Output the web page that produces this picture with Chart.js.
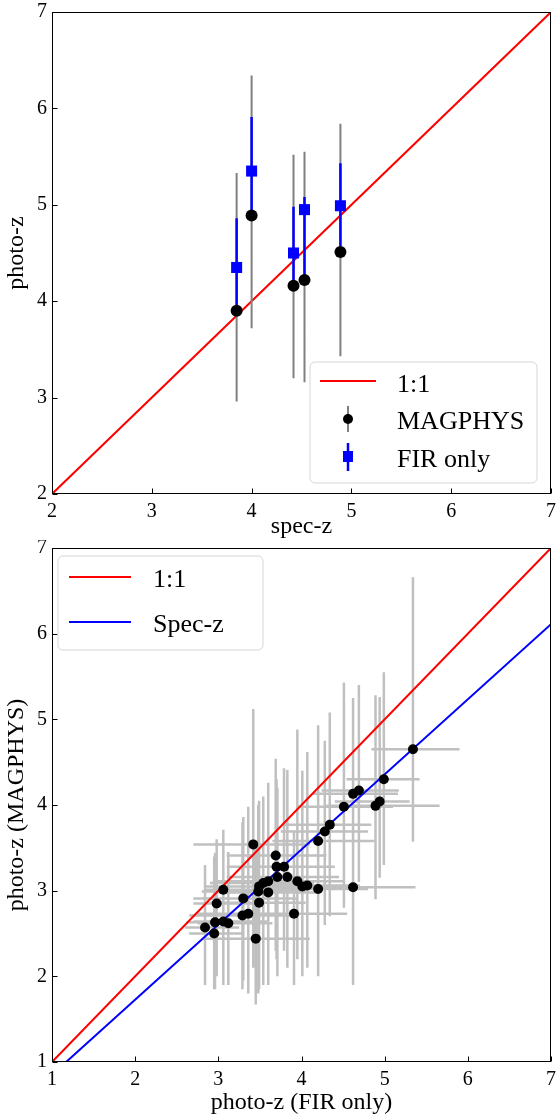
<!DOCTYPE html>
<html>
<head>
<meta charset="utf-8">
<script src="https://cdn.jsdelivr.net/npm/chart.js@4.4.0/dist/chart.umd.min.js"></script>
<style>
  body { margin: 0; background: #fff; }
  canvas { display: block; }
</style>
</head>
<body>
<canvas id="top" width="556" height="540"></canvas>
<canvas id="bottom" width="556" height="577"></canvas>
<script>
/* Top panel: spectroscopic vs photometric redshift */
var specZ      = [3.85, 4.00, 4.42, 4.53, 4.89];
var magphysZ   = [3.90, 4.89, 4.16, 4.22, 4.51];
var magphysLo  = [2.96, 3.72, 3.20, 3.16, 3.43];
var magphysHi  = [5.33, 6.34, 5.52, 5.55, 5.84];
var firZ       = [4.35, 5.35, 4.50, 4.95, 4.99];
var firLo      = [3.94, 4.90, 4.20, 4.25, 4.57];
var firHi      = [4.86, 5.91, 4.98, 5.08, 5.43];

/* Bottom panel: FIR-only photo-z vs MAGPHYS photo-z */
var firOnly    = [5.34, 4.99, 4.69, 4.62, 4.94, 4.89, 4.51, 4.34, 4.28, 4.20,
                  4.62, 4.20, 4.07, 4.01, 3.95, 3.42, 3.69, 3.70, 3.79, 3.71,
                  3.83, 3.60, 3.54, 3.49, 3.48, 3.60, 3.49, 3.30, 3.91, 3.36,
                  3.29, 3.45, 3.06, 2.98, 2.96, 3.06, 3.12, 2.84, 2.95];
var firOnlyLo  = [4.84, 4.54, 4.24, 4.14, 4.40, 4.30, 3.95, 3.80, 3.75, 3.65,
                  3.90, 3.60, 3.50, 3.40, 3.40, 2.70, 3.10, 3.10, 3.20, 3.10,
                  3.20, 2.95, 2.90, 2.85, 2.80, 3.00, 2.90, 2.70, 3.30, 2.75,
                  2.65, 2.80, 2.84, 2.70, 2.62, 2.70, 2.75, 2.60, 2.65];
var firOnlyHi  = [5.90, 5.42, 5.17, 5.16, 5.30, 5.66, 5.10, 4.84, 4.80, 4.88,
                  5.37, 4.80, 4.70, 4.65, 4.50, 4.10, 4.30, 4.35, 4.40, 4.30,
                  4.45, 4.20, 4.15, 4.10, 4.05, 4.20, 4.05, 3.95, 4.55, 4.00,
                  3.90, 4.10, 4.04, 3.50, 3.40, 3.60, 3.65, 3.25, 3.30];
var magphys    = [4.65, 4.30, 4.17, 4.13, 4.04, 3.99, 3.98, 3.77, 3.69, 3.58,
                  3.04, 3.02, 3.06, 3.05, 3.11, 3.54, 3.41, 3.28, 3.28, 3.16,
                  3.16, 3.11, 3.09, 3.05, 2.99, 2.98, 2.86, 2.91, 2.73, 2.73,
                  2.71, 2.44, 3.01, 2.85, 2.63, 2.64, 2.62, 2.57, 2.50];
var magphysLo2 = [3.57, 3.30, 3.10, 2.95, 3.15, 2.90, 2.80, 2.70, 2.60, 2.40,
                  1.90, 2.00, 2.10, 2.00, 2.20, 2.10, 2.30, 2.20, 2.30, 2.00,
                  2.10, 1.95, 1.90, 1.85, 1.80, 1.90, 1.90, 1.95, 1.90, 1.80,
                  1.85, 1.67, 2.00, 2.00, 1.85, 1.90, 1.90, 1.90, 1.85];
var magphysHi2 = [6.66, 5.55, 5.40, 5.25, 5.26, 5.28, 5.43, 5.08, 4.75, 4.93,
                  4.20, 4.00, 4.62, 4.40, 4.88, 5.12, 4.54, 4.30, 4.43, 4.20,
                  4.41, 4.26, 4.10, 4.05, 4.00, 3.95, 3.90, 3.86, 3.70, 3.98,
                  3.80, 3.50, 3.71, 3.60, 3.44, 3.50, 3.45, 3.30, 3.40];
var specLine   = [[1.17, 1.0], [7.0, 6.11]];

var SERIF = "'Liberation Serif', 'Times New Roman', serif";

/* error bars as one broken line: lo, hi, gap, lo, hi, gap ... */
function vBars(xs, lo, hi) {
    var pts = [];
    for (var i = 0; i < xs.length; i++) {
	pts.push({x: xs[i], y: lo[i]}, {x: xs[i], y: hi[i]}, {x: null, y: null});
    }
    return pts;
}
function hBars(ys, lo, hi) {
    var pts = [];
    for (var i = 0; i < ys.length; i++) {
	pts.push({x: lo[i], y: ys[i]}, {x: hi[i], y: ys[i]}, {x: null, y: null});
    }
    return pts;
}
function pairs(xs, ys) {
    return xs.map(function(x, i) { return {x: x, y: ys[i]}; });
}
function barSet(data, color, width, order) {
    return {data: data, showLine: true, spanGaps: false, borderColor: color,
	    borderWidth: width, pointRadius: 0, pointHoverRadius: 0, order: order};
}

function axis(min, max, title, isX, size, titlePad) {
    return {
	type: 'linear', min: min, max: max,
	ticks: {stepSize: 1, color: '#000', padding: isX ? 6 : 5,
		font: {family: SERIF, size: 20}},
	grid: {display: false, drawTicks: false},
	border: {display: false},
	title: {display: true, text: title, color: '#000', padding: titlePad,
		font: {family: SERIF, size: 24}},
	afterFit: function(s) {
	    /* keep the plot box where the reference has it */
	    s.paddingLeft = s.paddingRight = s.paddingTop = s.paddingBottom = 0;
	    if (isX) s.height = size; else s.width = size;
	}
    };
}

/* full box round the plot plus inward ticks, matplotlib style */
var frame = {
    id: 'frame',
    afterDraw: function(chart) {
	var a = chart.chartArea, ctx = chart.ctx;
	var sx = chart.scales.x, sy = chart.scales.y;
	var l = Math.round(a.left) + 0.5, r = Math.round(a.right) - 0.5;
	var t = Math.round(a.top) + 0.5, b = Math.round(a.bottom) - 0.5;
	ctx.save();
	ctx.strokeStyle = '#000';
	ctx.lineWidth = 1;
	ctx.strokeRect(l, t, r - l, b - t);
	ctx.beginPath();
	sx.ticks.forEach(function(tk) {
	    var px = Math.round(sx.getPixelForValue(tk.value)) + 0.5;
	    ctx.moveTo(px, b); ctx.lineTo(px, b - 5);
	});
	sy.ticks.forEach(function(tk) {
	    var py = Math.round(sy.getPixelForValue(tk.value)) + 0.5;
	    ctx.moveTo(l, py); ctx.lineTo(l + 5, py);
	});
	ctx.stroke();
	ctx.restore();
    }
};

function legendBox(ctx, x, y, w, h) {
    ctx.beginPath();
    ctx.roundRect(x, y, w, h, 5);
    ctx.fillStyle = 'rgba(255,255,255,0.8)';
    ctx.fill();
    ctx.strokeStyle = '#d6d6d6';
    ctx.lineWidth = 1;
    ctx.stroke();
}

var legendTop = {
    id: 'legendTop',
    afterDraw: function(chart) {
	var a = chart.chartArea, ctx = chart.ctx;
	var x0 = a.right - 241, y0 = a.bottom - 132;
	ctx.save();
	legendBox(ctx, x0, y0, 227, 121);
	ctx.font = '26px ' + SERIF;
	ctx.fillStyle = '#000';
	ctx.textBaseline = 'alphabetic';
	/* 1:1 */
	ctx.strokeStyle = '#ff0000'; ctx.lineWidth = 2;
	ctx.beginPath(); ctx.moveTo(x0 + 10, y0 + 19); ctx.lineTo(x0 + 66, y0 + 19); ctx.stroke();
	ctx.fillText('1:1', x0 + 87, y0 + 30);
	/* MAGPHYS */
	ctx.strokeStyle = '#808080'; ctx.lineWidth = 2;
	ctx.beginPath(); ctx.moveTo(x0 + 38, y0 + 44); ctx.lineTo(x0 + 38, y0 + 70); ctx.stroke();
	ctx.beginPath(); ctx.arc(x0 + 38, y0 + 57, 5, 0, Math.PI * 2); ctx.fillStyle = '#000'; ctx.fill();
	ctx.fillText('MAGPHYS', x0 + 87, y0 + 67);
	/* FIR only */
	ctx.strokeStyle = '#0000ff'; ctx.lineWidth = 2.5;
	ctx.beginPath(); ctx.moveTo(x0 + 38, y0 + 81); ctx.lineTo(x0 + 38, y0 + 109); ctx.stroke();
	ctx.fillStyle = '#0000ff'; ctx.fillRect(x0 + 33, y0 + 89, 10, 11);
	ctx.fillStyle = '#000';
	ctx.fillText('FIR only', x0 + 87, y0 + 105);
	ctx.restore();
    }
};

var legendBottom = {
    id: 'legendBottom',
    afterDraw: function(chart) {
	var a = chart.chartArea, ctx = chart.ctx;
	var x0 = a.left + 6, y0 = a.top + 8;
	ctx.save();
	legendBox(ctx, x0, y0, 205, 94);
	ctx.font = '26px ' + SERIF;
	ctx.fillStyle = '#000';
	ctx.lineWidth = 2;
	ctx.strokeStyle = '#ff0000';
	ctx.beginPath(); ctx.moveTo(x0 + 11, y0 + 21); ctx.lineTo(x0 + 73, y0 + 21); ctx.stroke();
	ctx.fillText('1:1', x0 + 95, y0 + 31);
	ctx.strokeStyle = '#0000ff';
	ctx.beginPath(); ctx.moveTo(x0 + 11, y0 + 66); ctx.lineTo(x0 + 73, y0 + 66); ctx.stroke();
	ctx.fillText('Spec-z', x0 + 95, y0 + 76);
	ctx.restore();
    }
};

var common = {
    responsive: false,
    animation: false,
    devicePixelRatio: 1,
    plugins: {legend: {display: false}, tooltip: {enabled: false}}
};

new Chart(document.getElementById('top'), {
    type: 'scatter',
    data: {
	datasets: [
	    {data: pairs(specZ, firZ), pointStyle: 'rect', pointRadius: 7.8,
	     backgroundColor: '#0000ff', borderWidth: 0, order: 0},
	    {data: pairs(specZ, magphysZ), pointRadius: 6, backgroundColor: '#000',
	     borderWidth: 0, order: 1},
	    barSet(vBars(specZ, firLo, firHi), '#0000ff', 2.5, 2),
	    barSet(vBars(specZ, magphysLo, magphysHi), '#808080', 2, 3),
	    {data: [{x: 2, y: 2}, {x: 7, y: 7}], showLine: true, borderColor: '#ff0000',
	     borderWidth: 2, pointRadius: 0, order: 4}
	]
    },
    options: Object.assign({}, common, {
	layout: {autoPadding: false, padding: {top: 12, right: 5, left: 0, bottom: 0}},
	scales: {
	    x: axis(2, 7, 'spec-z', true, 46, {top: 0, bottom: -1}),
	    y: axis(2, 7, 'photo-z', false, 52, {top: 2, bottom: 0})
	}
    }),
    plugins: [frame, legendTop]
});

new Chart(document.getElementById('bottom'), {
    type: 'scatter',
    data: {
	datasets: [
	    {data: pairs(firOnly, magphys), pointRadius: 5, backgroundColor: '#000',
	     borderWidth: 0, order: 0},
	    {data: [{x: 1, y: 1}, {x: 7, y: 7}], showLine: true, borderColor: '#ff0000',
	     borderWidth: 2, pointRadius: 0, order: 1},
	    {data: specLine.map(function(p) { return {x: p[0], y: p[1]}; }), showLine: true,
	     borderColor: '#0000ff', borderWidth: 2, pointRadius: 0, order: 1},
	    barSet(hBars(magphys, firOnlyLo, firOnlyHi), '#c0c0c0', 2.5, 2),
	    barSet(vBars(firOnly, magphysLo2, magphysHi2), '#c0c0c0', 2.5, 2)
	]
    },
    options: Object.assign({}, common, {
	layout: {autoPadding: false, padding: {top: 8, right: 5, left: 0, bottom: 0}},
	scales: {
	    x: axis(1, 7, 'photo-z (FIR only)', true, 55, {top: 0, bottom: 0}),
	    y: axis(1, 7, 'photo-z (MAGPHYS)', false, 52, {top: 2, bottom: 0})
	}
    }),
    plugins: [frame, legendBottom]
});
</script>
</body>
</html>
